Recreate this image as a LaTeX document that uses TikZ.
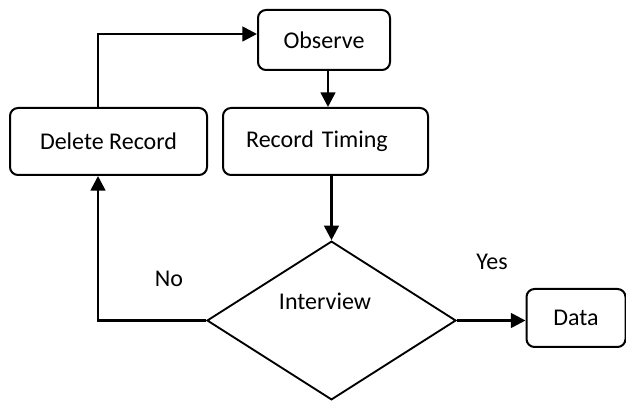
\documentclass[tikz,border=0pt]{standalone}
\usepackage{fontspec}
\setmainfont{Carlito}
\usetikzlibrary{arrows.meta, shapes.geometric, positioning, calc}

\tikzset{
    box/.style={rectangle, rounded corners=6pt, draw=black, line width=1.5pt, inner sep=0pt, font=\fontsize{18}{21}\selectfont},
    decision/.style={diamond, draw=black, line width=1.4pt, inner sep=0pt},
    flow/.style={line width=2pt, -{Triangle[length=11pt, width=11pt]}},
    tag/.style={font=\fontsize{18}{21}\selectfont, inner sep=0pt}
}

\begin{document}
\begin{tikzpicture}[x=0.75pt, y=-0.75pt]
        \useasboundingbox (0, 0) rectangle (626, 402);
        \begin{scope}
        \clip (0, 0) rectangle (626, 402);

        \node[box, minimum width=99pt, minimum height=45pt] (observe) at (324, 40) {Observe};
        \node[box, minimum width=147.75pt, minimum height=50.25pt] (delete) at (108.5, 141.5) {Delete Record};
        \node[box, minimum width=153.75pt, minimum height=50.25pt, text width=119pt, align=left] (timing) at (325.5, 141.5) {Record Timing};
        \node[decision, minimum width=186.75pt, minimum height=119pt] (interview) at (331.5, 320.5) {};
        \node[tag] (interviewtext) at (325, 301) {Interview};
        \node[box, minimum width=74.25pt, minimum height=43.5pt] (data) at (576, 318) {Data};

        \coordinate (rail) at (98, 34);

        \draw[flow] (delete.north -| rail) -- (rail) -- (rail -| observe.west);
        \draw[flow] ([xshift=3pt]observe.south) -- ([xshift=3pt]observe.south |- timing.north);
        \draw[flow] (interview.north |- timing.south) -- (interview.north);
        \draw[flow] (interview.west) -| (delete.south -| rail);
        \draw[flow] (interview.east) -- (interview.east -| data.west);

        \node[tag] (no) at (169, 279) {No};
        \node[tag] (yes) at (492, 262) {Yes};
        \end{scope}

      \end{tikzpicture}
\end{document}
